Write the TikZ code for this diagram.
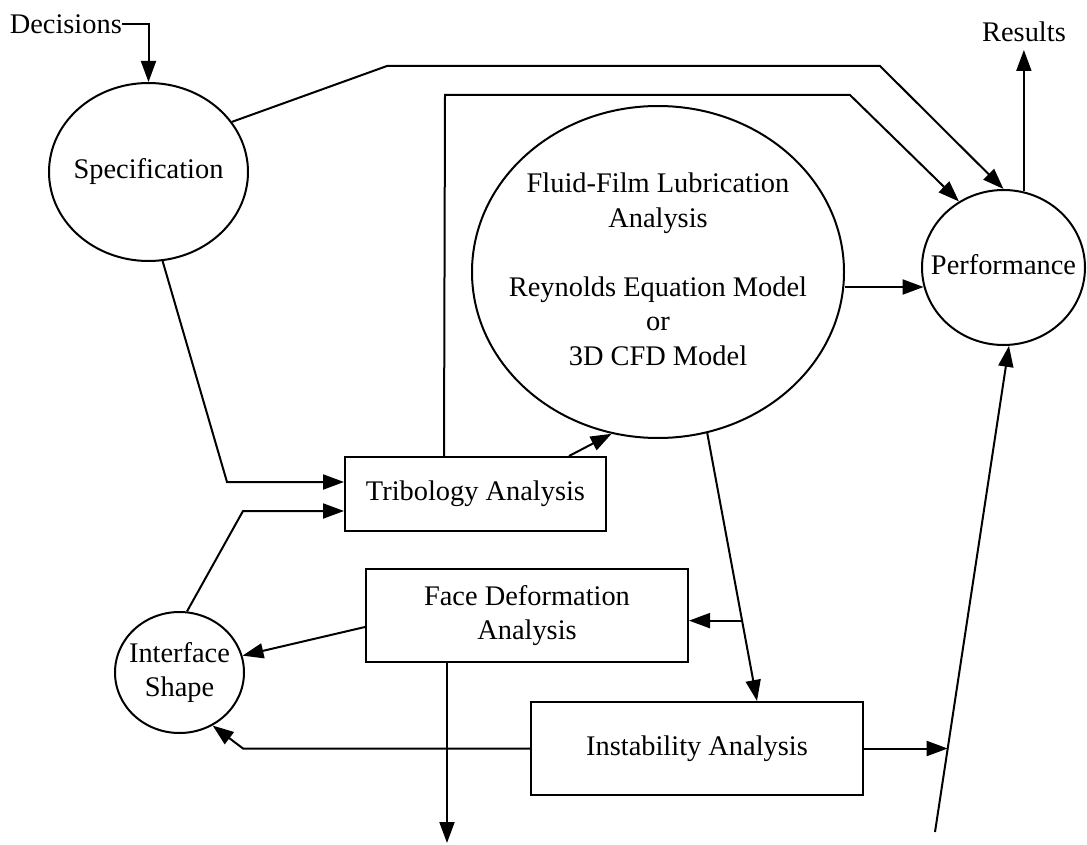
\documentclass[tikz,border=0pt]{standalone}
\usepackage{fontspec}
\setmainfont{Liberation Serif}
\usetikzlibrary{arrows.meta,shapes.geometric,calc}
\newcommand{\zwtext}[1]{\raisebox{-4pt}{\makebox[0pt]{\begin{tabular}{@{}c@{}}#1\end{tabular}}}}
\begin{document}
\begin{tikzpicture}[x=1pt,y=-1pt,
  every node/.style={font=\fontsize{28.4}{34.5}\selectfont, inner sep=0pt},
  oval/.style={draw, ellipse, line width=2pt},
  box/.style={draw, rectangle, line width=2pt},
  conn/.style={line width=2pt, -{Triangle[length=21pt,width=15pt]}},
]
\useasboundingbox (0,0) rectangle (1087,845);

% nodes
\node[oval, minimum width=199pt, minimum height=178pt] (spec) at (148.5,172) {\zwtext{Specification}};
\node[oval, minimum width=372pt, minimum height=332pt] (fluid) at (658,272)
  {\zwtext{Fluid-Film Lubrication\\Analysis\\[34.5pt]Reynolds Equation Model\\or\\3D CFD Model}};
\node[oval, minimum width=163pt, minimum height=155pt] (perf) at (1003.5,267.5) {\zwtext{Performance}};
\node[oval, minimum width=129pt, minimum height=121pt] (iface) at (179.5,672.5) {\zwtext{Interface\\Shape}};
\node[box, minimum width=261pt, minimum height=74pt] (trib) at (475.5,494) {\zwtext{Tribology Analysis}};
\node[box, minimum width=322pt, minimum height=93pt] (face) at (527,615.5) {\zwtext{Face Deformation\\Analysis}};
\node[box, minimum width=332pt, minimum height=93pt] (inst) at (697,748.5) {\zwtext{Instability Analysis}};
\node[anchor=east] (dec) at (122,24) {Decisions};
\node (res) at (1024,32) {Results};

\coordinate (resin) at (1024,50);
\coordinate (fdout) at (447,843);
\coordinate (pin) at (935,832);

% connectors
\draw[conn] (dec.east) -| (spec.north);
\draw[conn] (spec.31) -- (387,66) -- (880,66) -- (perf.north);
\draw[conn] ($(trib.north west)+(100,0)$) -- (445,95) -- (850,95) -- (perf.124);
\draw[conn] ($(trib.north east)+(-38,0)$) -- (fluid.254);
\draw[conn] ($(fluid.east)+(0,15)$) -- ($(perf.west)+(2.6,19.5)$);
\draw[conn] (perf.75) -- (perf.75 |- resin);
\draw[conn] (spec.-81) -- (227,482) -- ($(trib.west)+(0,-12)$);
\draw[conn] (iface.83) -- (243,511) -- ($(trib.west)+(0,17)$);
\draw[conn] ($(face.west)+(0,11.5)$) -- (iface.15);
\draw[conn] (face.south -| fdout) -- (fdout);
\draw[conn] (fluid.-73) -- coordinate[pos=0.7] (br) ($(inst.north)+(60,0)$);
\draw[conn] (br) -- (br -| face.east);
\draw[conn] (inst.west) -- (243,748.5) -- (iface.-58);
\draw[conn] (pin) -- coordinate[pos=0.1715] (mid) (perf.-86);
\draw[conn] (inst.east) -- (inst.east -| mid);
\end{tikzpicture}
\end{document}
